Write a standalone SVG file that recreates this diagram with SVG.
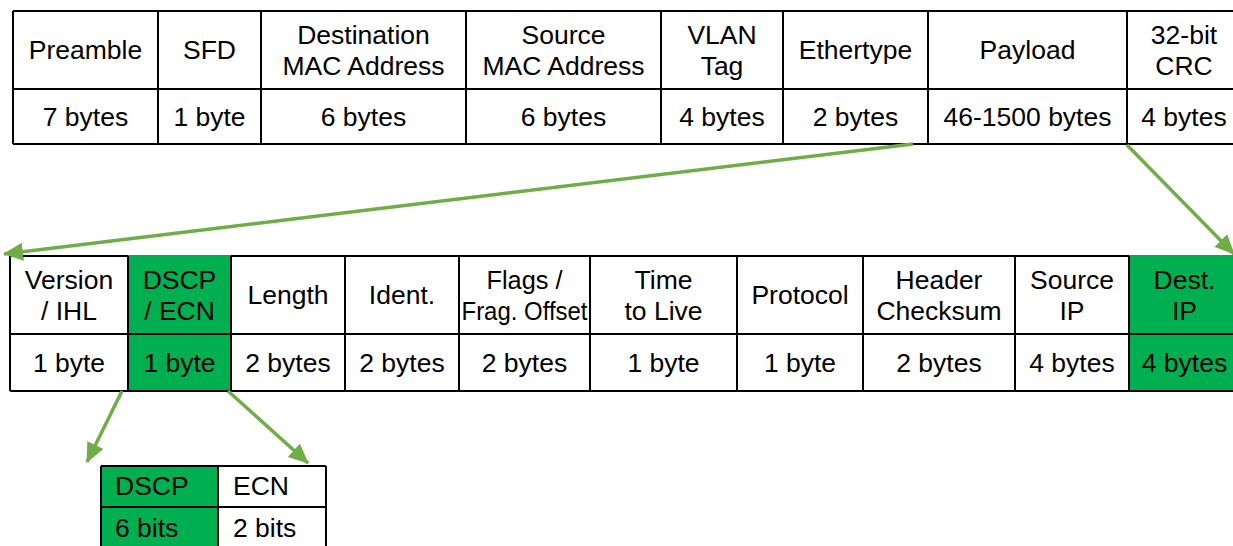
<svg xmlns="http://www.w3.org/2000/svg" width="1233" height="546" viewBox="0 0 1233 546">
  <style>
    text { font-family: "Liberation Sans", Arial, sans-serif; font-size: 26.5px; fill: #000; }
    .c { text-anchor: middle; }
    .grid { stroke: #000; stroke-width: 2; fill: none; }
    .hl { fill: #00B050; }
    .conn { stroke: #70AD47; stroke-width: 3.5; fill: none; marker-end: url(#arrow); }
  </style>
  <defs>
    <marker id="arrow" markerUnits="userSpaceOnUse" markerWidth="22" markerHeight="18" refX="19" refY="9" orient="auto">
      <path d="M0,0 L20,9 L0,18 Z" fill="#70AD47"/>
    </marker>
  </defs>

  <!-- Ethernet frame -->
  <g id="ethernet-frame">
    <path class="grid" d="M13,11 H1241 M13,89 H1241 M13,144 H1241 M13,11 V144 M158,11 V144 M261,11 V144 M466,11 V144 M661,11 V144 M783,11 V144 M928,11 V144 M1127,11 V144"/>
    <g id="eth-preamble"><text class="c" x="85.5" y="59">Preamble</text><text class="c" x="85.5" y="126">7 bytes</text></g>
    <g id="eth-sfd"><text class="c" x="209.5" y="59">SFD</text><text class="c" x="209.5" y="126">1 byte</text></g>
    <g id="eth-dst"><text class="c" x="363.5" y="44">Destination</text><text class="c" x="363.5" y="75">MAC Address</text><text class="c" x="363.5" y="126">6 bytes</text></g>
    <g id="eth-src"><text class="c" x="563.5" y="44">Source</text><text class="c" x="563.5" y="75">MAC Address</text><text class="c" x="563.5" y="126">6 bytes</text></g>
    <g id="eth-vlan"><text class="c" x="722" y="44">VLAN</text><text class="c" x="722" y="75">Tag</text><text class="c" x="722" y="126">4 bytes</text></g>
    <g id="eth-type"><text class="c" x="855.5" y="59">Ethertype</text><text class="c" x="855.5" y="126">2 bytes</text></g>
    <g id="eth-payload"><text class="c" x="1027.5" y="59">Payload</text><text class="c" x="1027.5" y="126">46-1500 bytes</text></g>
    <g id="eth-crc"><text class="c" x="1184" y="44">32-bit</text><text class="c" x="1184" y="75">CRC</text><text class="c" x="1184" y="126">4 bytes</text></g>
  </g>

  <!-- IPv4 header -->
  <g id="ipv4-header">
    <path class="grid" d="M10,256 H1241 M10,334 H1241 M10,391 H1241"/>
    <rect class="hl" x="128" y="255" width="103" height="79"/>
    <rect class="hl" x="128" y="334" width="103" height="57"/>
    <rect class="hl" x="1129" y="255" width="112" height="79"/>
    <rect class="hl" x="1129" y="334" width="112" height="57"/>
    <path class="grid" d="M128,334 H231 M128,391 H231 M1129,334 H1241 M1129,391 H1241 M10,256 V391 M128,256 V391 M231,256 V391 M345,256 V391 M459,256 V391 M590,256 V391 M737,256 V391 M863,256 V391 M1015,256 V391 M1129,256 V391"/>
    <g id="ip-ver"><text class="c" x="69" y="289">Version</text><text class="c" x="69" y="320">/ IHL</text><text class="c" x="69" y="372">1 byte</text></g>
    <g id="ip-dscp"><text class="c" x="179.5" y="289">DSCP</text><text class="c" x="179.5" y="320">/ ECN</text><text class="c" x="179.5" y="372">1 byte</text></g>
    <g id="ip-len"><text class="c" x="288" y="304">Length</text><text class="c" x="288" y="372">2 bytes</text></g>
    <g id="ip-ident"><text class="c" x="402" y="304">Ident.</text><text class="c" x="402" y="372">2 bytes</text></g>
    <g id="ip-flags"><text class="c" x="524.5" y="289" textLength="76" lengthAdjust="spacingAndGlyphs">Flags /</text><text class="c" x="524.5" y="320" textLength="126" lengthAdjust="spacingAndGlyphs">Frag. Offset</text><text class="c" x="524.5" y="372">2 bytes</text></g>
    <g id="ip-ttl"><text class="c" x="663.5" y="289">Time</text><text class="c" x="663.5" y="320">to Live</text><text class="c" x="663.5" y="372">1 byte</text></g>
    <g id="ip-proto"><text class="c" x="800" y="304">Protocol</text><text class="c" x="800" y="372">1 byte</text></g>
    <g id="ip-csum"><text class="c" x="939" y="289">Header</text><text class="c" x="939" y="320">Checksum</text><text class="c" x="939" y="372">2 bytes</text></g>
    <g id="ip-src"><text class="c" x="1072" y="289">Source</text><text class="c" x="1072" y="320">IP</text><text class="c" x="1072" y="372">4 bytes</text></g>
    <g id="ip-dst"><text class="c" x="1184.5" y="289">Dest.</text><text class="c" x="1184.5" y="320">IP</text><text class="c" x="1184.5" y="372">4 bytes</text></g>
  </g>

  <!-- DSCP / ECN byte -->
  <g id="tos-byte">
    <rect class="hl" x="101" y="466" width="117" height="82"/>
    <path class="grid" d="M101,466 H326 M101,507 H326 M101,466 V548 M218,466 V548 M326,466 V548"/>
    <g id="tos-dscp"><text x="115" y="495">DSCP</text><text x="115" y="537">6 bits</text></g>
    <g id="tos-ecn"><text x="233" y="495">ECN</text><text x="233" y="537">2 bits</text></g>
  </g>

  <!-- Connectors -->
  <g id="connectors">
    <line class="conn" x1="913" y1="144" x2="4" y2="254"/>
    <line class="conn" x1="1127" y1="145" x2="1234" y2="254"/>
    <line class="conn" x1="122" y1="391" x2="87" y2="462"/>
    <line class="conn" x1="228" y1="391" x2="308" y2="463"/>
  </g>
</svg>
